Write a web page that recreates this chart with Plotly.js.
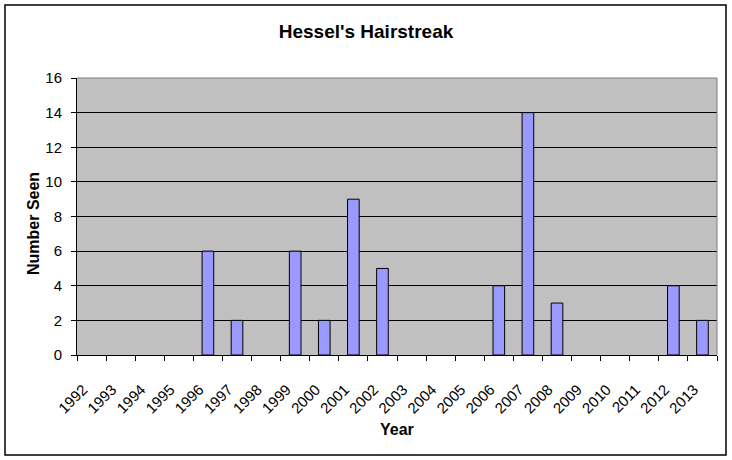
<!DOCTYPE html>
<html>
<head>
<meta charset="utf-8">
<script src="https://cdn.plot.ly/plotly-3.0.1.min.js"></script>
<style>
html,body{margin:0;padding:0;background:#fff;}
#chart{width:732px;height:460px;}
</style>
</head>
<body>
<div id="chart"></div>
<script>
const years = [1992,1993,1994,1995,1996,1997,1998,1999,2000,2001,2002,2003,2004,2005,2006,2007,2008,2009,2010,2011,2012,2013];
const counts = [0,0,0,0,6,2,0,6,2,9,5,0,0,0,4,14,3,0,0,0,4,2];
const yTicks = [0,2,4,6,8,10,12,14,16];

const W = 732, H = 460;
const L = 77, R = 717, T = 78, B = 355;
const px = v => (v - L) / (R - L);
const py = v => (B - v) / (B - T);

// tick marks sit at category boundaries; each label sits at its category's left boundary
const tickVals = years.map(y => y - 0.5).concat([years[years.length-1] + 0.5]);
const tickText = years.map(String).concat([""]);

const font = "Liberation Sans, Arial, sans-serif";

const trace = {
  type: "bar",
  x: years,
  y: counts.map(v => (v === 0 ? null : v)),
  width: 0.4,
  marker: {color: "#9999FF", line: {color: "#000000", width: 1}},
  hoverinfo: "x+y"
};

const layout = {
  width: W, height: H,
  margin: {l: L, r: W - R, t: T, b: H - B, pad: 0},
  paper_bgcolor: "#ffffff",
  plot_bgcolor: "#C0C0C0",
  showlegend: false,
  title: {
    text: "<b>Hessel's Hairstreak</b>",
    font: {family: font, size: 19, color: "#000"},
    x: px(366), xref: "paper", xanchor: "center",
    y: 1 - 31/H, yref: "container", yanchor: "middle"
  },
  xaxis: {
    range: [years[0] - 0.5, years[years.length-1] + 0.5],
    tickmode: "array",
    tickvals: tickVals,
    ticktext: tickText,
    tickangle: -45,
    ticklabelstandoff: 14,
    ticklabelshift: 6,
    ticks: "outside", ticklen: 5, tickcolor: "#000", tickwidth: 1,
    showgrid: false, zeroline: false,
    showline: true, linecolor: "#000", linewidth: 1,
    tickfont: {family: font, size: 15, color: "#000"},
    automargin: false
  },
  yaxis: {
    range: [0, 16],
    tickmode: "array",
    tickvals: yTicks,
    ticks: "outside", ticklen: 5, tickcolor: "#000", tickwidth: 1,
    showgrid: true, gridcolor: "#000", gridwidth: 1,
    zeroline: false,
    showline: true, linecolor: "#000", linewidth: 1,
    tickfont: {family: font, size: 15, color: "#000"},
    ticklabelstandoff: 6,
    automargin: false
  },
  annotations: [
    {text: "<b>Year</b>", xref: "paper", yref: "paper", x: px(397), y: py(429),
     xanchor: "center", yanchor: "middle", showarrow: false,
     font: {family: font, size: 16, color: "#000"}},
    {text: "<b>Number Seen</b>", xref: "paper", yref: "paper", x: px(34), y: py(224),
     xanchor: "center", yanchor: "middle", showarrow: false, textangle: -90,
     font: {family: font, size: 16, color: "#000"}}
  ],
  shapes: [
    {type: "line", xref: "paper", yref: "paper", x0: 0, x1: 1, y0: 1, y1: 1, line: {color: "#808080", width: 1}},
    {type: "line", xref: "paper", yref: "paper", x0: 1, x1: 1, y0: 0, y1: 1, line: {color: "#808080", width: 1}},
    {type: "rect", xref: "paper", yref: "paper", x0: px(5), x1: px(726), y0: py(455), y1: py(5), line: {color: "#000", width: 1.5}, fillcolor: "rgba(0,0,0,0)"}
  ]
};

Plotly.newPlot("chart", [trace], layout, {displayModeBar: false, staticPlot: true});
</script>
</body>
</html>
